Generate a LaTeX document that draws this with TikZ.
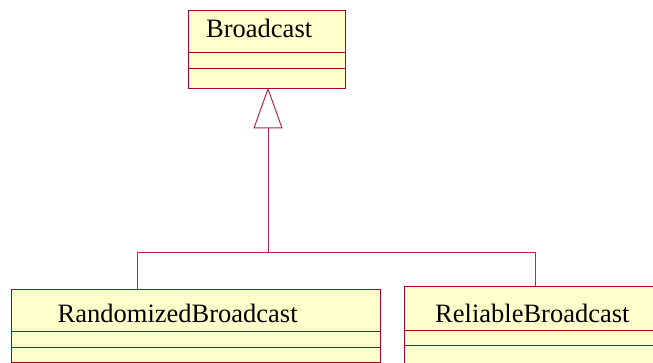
\documentclass[tikz,border=0pt]{standalone}
\usepackage{fontspec}
\setmainfont{Liberation Serif}
\usetikzlibrary{calc}
\definecolor{umlborder}{RGB}{165,0,52}
\definecolor{umlline}{RGB}{176,40,90}
\definecolor{umlfill}{RGB}{255,255,204}
\tikzset{
  classbox/.style={draw=umlborder, fill=umlfill, line width=1pt, rectangle,
    inner sep=0pt, anchor=north west},
  divider/.style={draw=umlborder, line width=1pt},
  classname/.style={font=\fontsize{26.5}{30}\selectfont, anchor=base west, inner sep=0pt},
  assoc/.style={draw=umlline, line width=1pt},
  genhead/.style={draw=umlline, line width=1pt, fill=white, line join=miter}
}
\begin{document}
\begin{tikzpicture}[x=1pt, y=-1pt]
  \useasboundingbox (0,0) rectangle (653,363);
  \clip (0,0) rectangle (653,363);

  % Broadcast
  \node[classbox, minimum width=157pt, minimum height=78pt] (bc) at (188,10) {};
  \node[classname] (bcname) at (206,38) {Broadcast};
  \draw[divider] (188,52.5) -- (345,52.5);
  \draw[divider] (188,69) -- (345,69);

  % RandomizedBroadcast
  \node[classbox, minimum width=369pt, minimum height=73pt] (rb) at (11,289) {};
  \node[classname] (rbname) at (57.5,322) {RandomizedBroadcast};
  \draw[divider] (11,331) -- (380,331);
  \draw[divider] (11,347.5) -- (380,347.5);

  % ReliableBroadcast (runs past the right and bottom edges)
  \node[classbox, minimum width=270pt, minimum height=90pt] (lb) at (403.5,286) {};
  \node[classname] (lbname) at (435,322) {ReliableBroadcast};
  \draw[divider] (403.5,330) -- (673.5,330);
  \draw[divider] (403.5,345.5) -- (673.5,345.5);

  % generalization tree
  \coordinate (apex) at (268,89);
  \coordinate (base) at (268,128);
  \coordinate (join) at (268,253);
  \coordinate (rbtop) at (137,289);
  \coordinate (lbtop) at (535.5,286);
  \draw[assoc] (base) -- (join);
  \draw[assoc] (rbtop) -- (137,253) -- (535.5,253) -- (lbtop);
  \draw[genhead] (apex) -- (254,128) -- (282,128) -- cycle;
\end{tikzpicture}
\end{document}
